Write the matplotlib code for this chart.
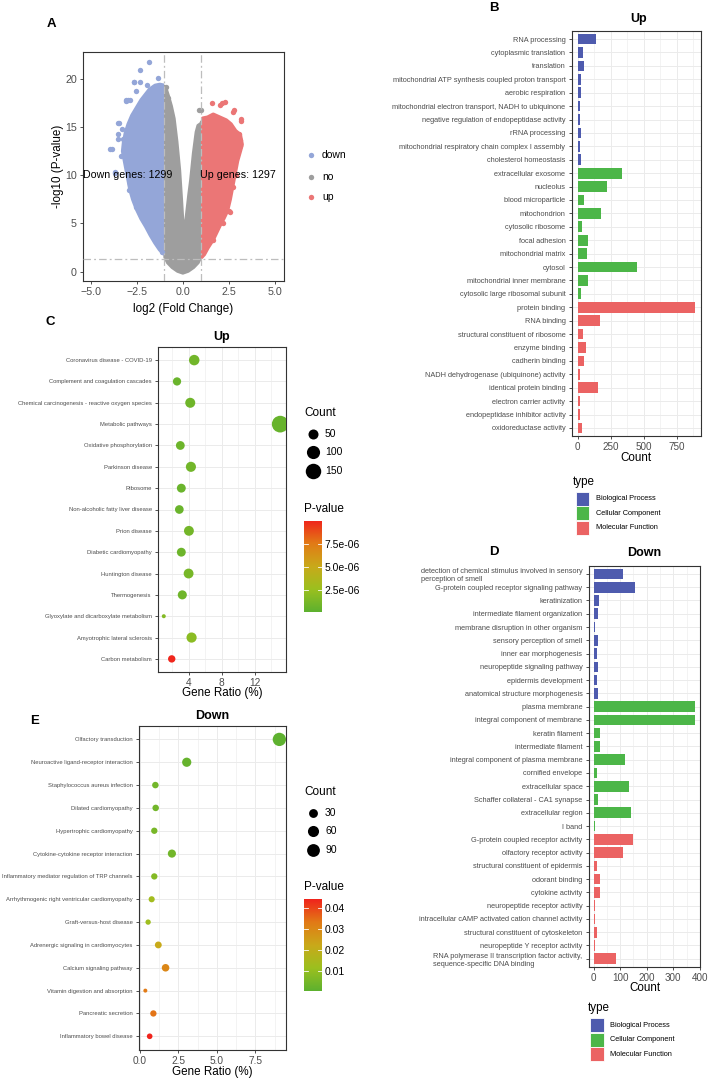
import numpy as np
import matplotlib
matplotlib.use("Agg")
import matplotlib.pyplot as plt
from matplotlib.colors import LinearSegmentedColormap, Normalize
from matplotlib.patches import Rectangle

plt.rcParams['font.family'] = ['Liberation Sans', 'DejaVu Sans']

W, H = 708, 1079

# ---------------- A: volcano (cloud outlines + loose points)
down_poly_x = [-1.0, -1.25, -1.5, -1.8, -2.25, -2.5, -2.75, -2.95, -3.1, -3.2, -3.25, -3.15, -3.05,
               -2.95, -2.85, -2.7, -2.5, -2.25, -2.0, -1.75, -1.5, -1.25, -1.05, -1.0]
down_poly_y = [19.3, 19.4, 19.3, 18.9, 17.8, 17.0, 16.2, 15.3, 14.4, 13.4, 12.5, 11.5, 10.5,
               9.5, 8.5, 7.5, 6.5, 5.5, 4.7, 3.8, 3.0, 2.3, 1.9, 1.9]
up_poly_x = [1.0, 1.15, 1.35, 1.65, 2.0, 2.2, 2.4, 2.55, 2.7, 2.85, 2.95, 3.1, 3.2, 3.1, 2.85,
             2.6, 2.35, 2.0, 1.65, 1.35, 1.1, 1.0]
up_poly_y = [1.5, 1.8, 2.5, 3.4, 4.8, 5.5, 6.3, 7.5, 9.0, 10.5, 11.5, 12.5, 13.2, 14.2, 14.6,
             15.3, 15.7, 16.0, 16.3, 16.0, 15.9, 15.6]
no_poly_x = [-1.0, -0.9, -0.75, -0.6, -0.45, -0.3, -0.15, -0.05, 0.05, 0.15, 0.3, 0.4, 0.55, 0.7,
             0.8, 0.95, 1.0, 1.0, 0.85, 0.6, 0.3, 0.0, -0.3, -0.6, -0.85, -1.0]
no_poly_y = [19.3, 19.1, 18.2, 17.2, 15.9, 13.5, 10.5, 7.5, 4.3, 5.5, 8.0, 9.5, 12.3, 14.5,
             15.2, 15.4, 15.6, 1.5, 0.9, 0.4, 0.0, -0.2, 0.0, 0.4, 0.9, 1.5]

down_pts_x = [-1.84, -2.31, -2.65, -2.31, -1.97, -1.35, -2.56, -3.07, -2.88, -3.49, -3.97, -3.82,
              -3.68, -3.52, -3.52, -3.25, -2.71, -2.88, -2.78, -2.52, -1.14, -3.5, -3.09, -2.97,
              -2.64, -3.69, -2.93, -2.37, -1.43, -3.3, -3.35]
down_pts_y = [21.8, 20.9, 19.65, 19.65, 19.4, 20.1, 18.75, 17.7, 17.8, 15.4, 12.7, 12.7,
              10.3, 14.3, 13.8, 13.8, 15.6, 9.15, 8.7, 6.7, 2.05, 15.4, 17.85, 17.85,
              19.65, 10.2, 8.5, 6.7, 3.5, 14.8, 12.0]
up_pts_x = [1.56, 2.1, 2.28, 2.73, 3.18, 3.09, 3.15, 2.73, 2.55, 1.1, 2.04, 2.78, 3.06, 3.09,
            2.51, 1.65, 2.9, 2.2]
up_pts_y = [17.5, 17.5, 17.6, 16.6, 15.6, 13.7, 15.8, 8.8, 6.2, 2.0, 17.3, 16.8, 14.3, 13.0,
            6.3, 3.3, 10.0, 5.0]
no_pts_x = [0.87, 0.97, -0.89, -0.8]
no_pts_y = [16.8, 16.75, 19.2, 18.0]
n_down, n_up = 1299, 1297

# ---------------- B / D: GO bar charts
up_go_terms = ["RNA processing", "cytoplasmic translation", "translation",
               "mitochondrial ATP synthesis coupled proton transport", "aerobic respiration",
               "mitochondrial electron transport, NADH to ubiquinone",
               "negative regulation of endopeptidase activity", "rRNA processing",
               "mitochondrial respiratory chain complex I assembly", "cholesterol homeostasis",
               "extracellular exosome", "nucleolus", "blood microparticle", "mitochondrion",
               "cytosolic ribosome", "focal adhesion", "mitochondrial matrix", "cytosol",
               "mitochondrial inner membrane", "cytosolic large ribosomal subunit",
               "protein binding", "RNA binding", "structural constituent of ribosome",
               "enzyme binding", "cadherin binding", "NADH dehydrogenase (ubiquinone) activity",
               "identical protein binding", "electron carrier activity",
               "endopeptidase inhibitor activity", "oxidoreductase activity"]
up_go_count = [142, 40, 52, 25, 25, 18, 20, 30, 20, 25,
               335, 222, 50, 180, 37, 80, 70, 450, 77, 25,
               888, 172, 42, 62, 50, 18, 157, 22, 18, 37]
down_go_terms = ["detection of chemical stimulus involved in sensory\nperception of smell",
                 "G-protein coupled receptor signaling pathway", "keratinization",
                 "intermediate filament organization", "membrane disruption in other organism",
                 "sensory perception of smell", "inner ear morphogenesis",
                 "neuropeptide signaling pathway", "epidermis development",
                 "anatomical structure morphogenesis",
                 "plasma membrane", "integral component of membrane", "keratin filament",
                 "intermediate filament", "integral component of plasma membrane",
                 "cornified envelope", "extracellular space", "Schaffer collateral - CA1 synapse",
                 "extracellular region", "I band",
                 "G-protein coupled receptor activity", "olfactory receptor activity",
                 "structural constituent of epidermis", "odorant binding", "cytokine activity",
                 "neuropeptide receptor activity",
                 "intracellular cAMP activated cation channel activity",
                 "structural constituent of cytoskeleton", "neuropeptide Y receptor activity",
                 "RNA polymerase II transcription factor activity,\nsequence-specific DNA binding"]
down_go_count = [109, 155, 20, 17, 6, 17, 11, 16, 14, 17,
                 383, 383, 25, 25, 118, 12, 133, 15, 139, 6,
                 150, 109, 14, 25, 22, 6, 5, 14, 5, 85]
go_types = ["Biological Process"] * 10 + ["Cellular Component"] * 10 + ["Molecular Function"] * 10
type_names = ["Biological Process", "Cellular Component", "Molecular Function"]
type_colors = {"Biological Process": "#4E5BAE", "Cellular Component": "#4CB648",
               "Molecular Function": "#EB6363"}

# ---------------- C / E: KEGG dot plots
up_kegg_terms = ["Coronavirus disease - COVID-19", "Complement and coagulation cascades",
                 "Chemical carcinogenesis - reactive oxygen species", "Metabolic pathways",
                 "Oxidative phosphorylation", "Parkinson disease", "Ribosome",
                 "Non-alcoholic fatty liver disease", "Prion disease", "Diabetic cardiomyopathy",
                 "Huntington disease", "Thermogenesis", "Glyoxylate and dicarboxylate metabolism",
                 "Amyotrophic lateral sclerosis", "Carbon metabolism"]
up_kegg_ratio = [4.68, 2.6, 4.2, 15.08, 3.0, 4.28, 3.12, 2.88, 4.04, 3.12, 4.0, 3.24, 1.0, 4.36, 1.96]
up_kegg_count = [56, 31, 50, 181, 36, 51, 37, 35, 48, 37, 48, 39, 12, 52, 24]
up_kegg_p = [9e-7, 6e-7, 8e-7, 5e-7, 7e-7, 9e-7, 6e-7, 6e-7, 1.0e-6, 7e-7, 1.1e-6, 8e-7,
             1.6e-6, 1.9e-6, 9.9e-6]
down_kegg_terms = ["Olfactory transduction", "Neuroactive ligand-receptor interaction",
                   "Staphylococcus aureus infection", "Dilated cardiomyopathy",
                   "Hypertrophic cardiomyopathy", "Cytokine-cytokine receptor interaction",
                   "Inflammatory mediator regulation of TRP channels",
                   "Arrhythmogenic right ventricular cardiomyopathy", "Graft-versus-host disease",
                   "Adrenergic signaling in cardiomyocytes", "Calcium signaling pathway",
                   "Vitamin digestion and absorption", "Pancreatic secretion",
                   "Inflammatory bowel disease"]
down_kegg_ratio = [9.05, 3.05, 1.02, 1.04, 0.95, 2.09, 0.95, 0.78, 0.55, 1.21, 1.68, 0.37, 0.89, 0.65]
down_kegg_count = [100, 34, 11, 11, 10, 23, 10, 9, 6, 13, 18, 4, 10, 7]
down_kegg_p = [0.0005, 0.002, 0.004, 0.004, 0.005, 0.004, 0.007, 0.013, 0.012, 0.022, 0.030,
               0.033, 0.034, 0.044]

c_down, c_no, c_up = "#94A6D8", "#9E9E9E", "#EB7676"
pcmap = LinearSegmentedColormap.from_list(
    "pv", [(0, "#5DB12F"), (0.25, "#9CC01F"), (0.5, "#C9A91A"), (0.75, "#E27A16"), (1, "#F0231C")])
grid_c = "#EBEBEB"
tick_c = "#4D4D4D"

fig = plt.figure(figsize=(W / 100, H / 100), dpi=100)


def box(l, t, r, b):
    return [l / W, 1 - b / H, (r - l) / W, (b - t) / H]


def style(ax, tsize):
    for s in ax.spines.values():
        s.set_color("#333333")
        s.set_linewidth(0.8)
    ax.tick_params(which="major", length=2.5, width=0.6, color="#333333",
                   labelcolor=tick_c, labelsize=tsize, pad=2)
    ax.tick_params(which="minor", length=0)


def labels(ax, px, xlabel, xl_y, ylabel=None, yl_x=None, size=8.4):
    l, t, r, b = px
    ax.set_xlabel(xlabel, fontsize=size)
    ax.xaxis.set_label_coords(0.5, (b - xl_y) / (b - t))
    ax.xaxis.label.set_va("center")
    if ylabel:
        ax.set_ylabel(ylabel, fontsize=size)
        ax.yaxis.set_label_coords((yl_x - l) / (r - l), 0.5)
        ax.yaxis.label.set_va("center")
        ax.yaxis.label.set_ha("center")


# ---- A
pxA = (83, 52, 284, 281)
axA = fig.add_axes(box(*pxA))
axA.fill(no_poly_x, no_poly_y, fc=c_no, ec=c_no, lw=1.6, joinstyle="round", zorder=1)
axA.scatter(no_pts_x, no_pts_y, s=15, color=c_no, lw=0, zorder=1)
# the down/up clouds stop sharply at the fold-change cut-offs
left_clip = Rectangle((-10, -5), 9.0, 40, transform=axA.transData)
right_clip = Rectangle((1, -5), 10, 40, transform=axA.transData)
pd_ = axA.fill(down_poly_x, down_poly_y, fc=c_down, ec=c_down, lw=3, joinstyle="round", zorder=2)[0]
pd_.set_clip_path(left_clip)
axA.scatter(down_pts_x, down_pts_y, s=15, color=c_down, lw=0, zorder=2)
pu_ = axA.fill(up_poly_x, up_poly_y, fc=c_up, ec=c_up, lw=3, joinstyle="round", zorder=2)[0]
pu_.set_clip_path(right_clip)
axA.scatter(up_pts_x, up_pts_y, s=15, color=c_up, lw=0, zorder=2)
dd = (0, (6, 2.5, 1.5, 2.5))
for xv in (-1, 1):
    axA.axvline(xv, color="#BDBDBD", lw=0.9, ls=dd, zorder=3)
axA.axhline(-np.log10(0.05), color="#BDBDBD", lw=0.9, ls=dd, zorder=3)
axA.text(-3, 10, f"Down genes: {n_down}", fontsize=7.7, ha="center", va="center", zorder=4)
axA.text(3, 10, f"Up genes: {n_up}", fontsize=7.7, ha="center", va="center", zorder=4)
axA.set_xlim(-5.42, 5.49)
axA.set_ylim(-0.97, 22.8)
axA.set_xticks([-5, -2.5, 0, 2.5, 5])
axA.set_yticks([0, 5, 10, 15, 20])
style(axA, 7.7)
labels(axA, pxA, "log2 (Fold Change)", 309, "-log10 (P-value)", 58)


# ---- B, D
def go_bars(px, terms, counts, xlim, major, minor, xl_y):
    ax = fig.add_axes(box(*px))
    y = np.arange(len(terms))
    ax.barh(y, counts, height=0.8, color=[type_colors[t] for t in go_types], zorder=2)
    ax.set_ylim(len(terms) - 0.4, -0.6)
    ax.set_xlim(*xlim)
    ax.set_yticks(y)
    ax.set_yticklabels(terms, multialignment="left")
    ax.set_xticks(major)
    ax.set_xticks(minor, minor=True)
    ax.set_axisbelow(True)
    ax.grid(which="major", color=grid_c, lw=0.7)
    ax.grid(which="minor", axis="x", color=grid_c, lw=0.4)
    style(ax, 7.1)
    ax.tick_params(axis="y", labelsize=5.3)
    labels(ax, px, "Count", xl_y)
    return ax


pxB = (571.7, 31, 700.7, 436)
go_bars(pxB, up_go_terms, up_go_count, (-44, 932), [0, 250, 500, 750],
        [125, 375, 625, 875], 458)
pxD = (588.7, 566, 700.3, 966.7)
go_bars(pxD, down_go_terms, down_go_count, (-19, 402), [0, 100, 200, 300, 400],
        [50, 150, 250, 350], 987.7)


# ---- C, E
def dot_d(c, counts, dmin, dmax):
    lo, hi = min(counts), max(counts)
    return dmin + (dmax - dmin) * np.sqrt((np.asarray(c, float) - lo) / (hi - lo))


def kegg_dots(px, terms, ratio, counts, pv, norm, dmin, dmax, xlim, major, minor, xticklabels):
    ax = fig.add_axes(box(*px))
    y = np.arange(len(terms))
    d = dot_d(counts, counts, dmin, dmax)
    ax.scatter(ratio, y, s=(d * 0.72) ** 2, c=pv, cmap=pcmap, norm=norm, lw=0, zorder=3)
    ax.set_ylim(len(terms) - 0.4, -0.6)
    ax.set_xlim(*xlim)
    ax.set_yticks(y)
    ax.set_yticklabels(terms)
    ax.set_xticks(major)
    ax.set_xticklabels(xticklabels)
    ax.set_xticks(minor, minor=True)
    ax.set_axisbelow(True)
    ax.grid(which="major", color=grid_c, lw=0.7)
    ax.grid(which="minor", axis="x", color=grid_c, lw=0.4)
    style(ax, 7.3)
    ax.tick_params(axis="y", labelsize=4.2)
    return ax


normC = Normalize(7.5e-8, 1.0e-5)
pxC = (158, 347.3, 286, 671.7)
axC = kegg_dots(pxC, up_kegg_terms, up_kegg_ratio, up_kegg_count, up_kegg_p, normC, 4.0, 16.7,
                (0.3, 15.78), [4, 8, 12], [2, 6, 10, 14], ["4", "8", "12"])
labels(axC, pxC, "Gene Ratio (%)", 693)

normE = Normalize(0.0003, 0.0442)
pxE = (138.7, 725.7, 286, 1050)
axE = kegg_dots(pxE, down_kegg_terms, down_kegg_ratio, down_kegg_count, down_kegg_p, normE,
                4.0, 13.3, (-0.06, 9.48), [0, 2.5, 5, 7.5], [1.25, 3.75, 6.25, 8.75],
                ["0.0", "2.5", "5.0", "7.5"])
labels(axE, pxE, "Gene Ratio (%)", 1071.7)


def colorbar(px, norm, ticks, ticklabels):
    cax = fig.add_axes(box(*px))
    grad = np.linspace(norm.vmin, norm.vmax, 256).reshape(-1, 1)
    cax.imshow(grad, aspect="auto", cmap=pcmap, norm=norm, origin="lower",
               extent=[0, 1, norm.vmin, norm.vmax])
    cax.set_xlim(0, 1)
    cax.set_ylim(norm.vmin, norm.vmax)
    for s in cax.spines.values():
        s.set_visible(False)
    cax.set_xticks([])
    cax.yaxis.tick_right()
    cax.set_yticks(ticks)
    cax.set_yticklabels(ticklabels)
    cax.tick_params(axis="y", length=0, pad=2, labelsize=7.5, labelcolor="black")
    for t in ticks:
        cax.plot([0, 0.2], [t, t], color="white", lw=0.6)
        cax.plot([0.8, 1], [t, t], color="white", lw=0.6)


colorbar((304, 521, 322, 612.3), normC, [2.5e-6, 5.0e-6, 7.5e-6], ["2.5e-06", "5.0e-06", "7.5e-06"])
colorbar((304, 899.3, 322, 990.7), normE, [0.01, 0.02, 0.03, 0.04], ["0.01", "0.02", "0.03", "0.04"])

# ---- overlay for panel letters, titles and legends (pixel coordinates)
ov = fig.add_axes([0, 0, 1, 1])
ov.set_xlim(0, W)
ov.set_ylim(H, 0)
ov.axis("off")
ov.patch.set_alpha(0)

for letter, x, y in [("A", 51.7, 24), ("B", 494, 8), ("C", 50, 322), ("D", 494, 552), ("E", 35, 721)]:
    ov.text(x, y, letter, fontsize=9.5, fontweight="bold", ha="center", va="center")
for title, x, y in [("Up", 639, 19), ("Up", 221.7, 336.7), ("Down", 644, 553), ("Down", 212, 716)]:
    ov.text(x, y, title, fontsize=9, fontweight="bold", ha="center", va="center")

# volcano legend
for lab, col, y in [("down", c_down, 155.3), ("no", c_no, 176.5), ("up", c_up, 197.3)]:
    ov.scatter([311], [y], s=15, color=col, lw=0)
    ov.text(322, y, lab, fontsize=7.5, ha="left", va="center")


def type_legend(x, y):
    ov.text(x - 2.5, y, "type", fontsize=8.4, ha="left", va="center")
    for i, name in enumerate(type_names):
        yc = y + 16.7 + 14.5 * i
        ov.add_patch(Rectangle((x, yc - 6.8), 13.5, 13.6, facecolor=type_colors[name],
                               edgecolor="white", lw=0.6))
        ov.text(x + 20, yc, name, fontsize=5.3, ha="left", va="center")


type_legend(575.7, 482)
type_legend(590.3, 1008.5)


def size_legend(x, y, values, counts, dmin, dmax):
    ov.text(x, y, "Count", fontsize=8.5, ha="left", va="center")
    d = dot_d(values, counts, dmin, dmax)
    for i, (v, di) in enumerate(zip(values, d)):
        yc = y + 21.3 + 18.3 * i
        ov.scatter([x + 9.3], [yc], s=(di * 0.72) ** 2, color="black", lw=0)
        ov.text(x + 21, yc, str(v), fontsize=7.5, ha="left", va="center")


size_legend(304, 412.7, [50, 100, 150], up_kegg_count, 4.0, 16.7)
ov.text(304, 509.3, "P-value", fontsize=8.5, ha="left", va="center")
size_legend(304, 791.7, [30, 60, 90], down_kegg_count, 4.0, 13.3)
ov.text(304, 887.3, "P-value", fontsize=8.5, ha="left", va="center")

fig.savefig("out.png", dpi=100)
